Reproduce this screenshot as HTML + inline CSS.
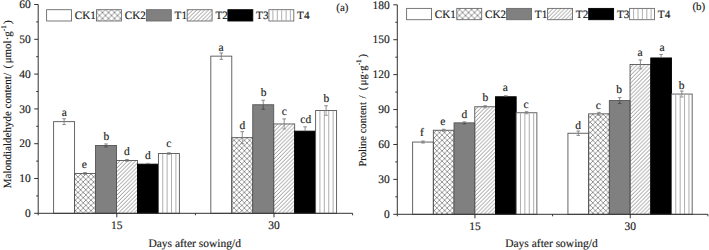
<!DOCTYPE html>
<html><head><meta charset="utf-8"><style>
html,body{margin:0;padding:0;background:#fff;}
svg{display:block;}
text{font-family:"Liberation Serif", serif;font-size:11.5px;fill:#1a1a1a;stroke:#1a1a1a;stroke-width:0.15px;text-rendering:geometricPrecision;}
</style></head><body>
<svg width="709" height="250" viewBox="0 0 709 250">

<defs>
 <pattern id="xh" patternUnits="userSpaceOnUse" width="5.2" height="5.2">
  <path d="M0,0 L5.2,5.2 M5.2,0 L0,5.2" stroke="#777" stroke-width="0.75" fill="none"/>
 </pattern>
 <pattern id="xh2" patternUnits="userSpaceOnUse" width="6" height="6" x="0.5" y="0.5">
  <path d="M0,0 L6,6 M6,0 L0,6" stroke="#777" stroke-width="0.8" fill="none"/>
 </pattern>
 <pattern id="dh" patternUnits="userSpaceOnUse" width="3.9" height="3.9">
  <path d="M-1,1 L1,-1 M0,3.9 L3.9,0 M2.9,4.9 L4.9,2.9" stroke="#7a7a7a" stroke-width="0.8" fill="none"/>
 </pattern>
 <pattern id="vl" patternUnits="userSpaceOnUse" width="4.7" height="10">
  <path d="M2.35,0 L2.35,10" stroke="#aaa" stroke-width="0.8" fill="none"/>
 </pattern>
</defs>

<rect x="53.62" y="121.65" width="20.96" height="91.65" fill="#fff" stroke="#555" stroke-width="0.9"/>
<rect x="74.58" y="173.55" width="20.96" height="39.75" fill="url(#xh)" stroke="#555" stroke-width="0.9"/>
<rect x="95.54" y="145.45" width="20.96" height="67.85" fill="#808080" stroke="#555" stroke-width="0.9"/>
<rect x="116.5" y="160.45" width="20.96" height="52.85" fill="url(#dh)" stroke="#555" stroke-width="0.9"/>
<rect x="137.46" y="164.15" width="20.96" height="49.15" fill="#000" stroke="#000" stroke-width="0.9"/>
<rect x="158.42" y="153.55" width="20.96" height="59.75" fill="#fff" stroke="#555" stroke-width="0.9"/>
<path d="M162.72,154.05V213.3M167.12,154.05V213.3M171.52,154.05V213.3M175.92,154.05V213.3" stroke="#999" stroke-width="0.8" fill="none"/>
<path d="M64.1,118.75 V121.65 M62.3,118.75 H65.9" stroke="#777" stroke-width="0.85" fill="none"/>
<path d="M64.1,121.65 V124.55 M62.3,124.55 H65.9" stroke="#777" stroke-width="0.8" fill="none"/>
<text x="64.2" y="116" text-anchor="middle">a</text>
<path d="M85.06,172.55 V173.55 M83.26,172.55 H86.86" stroke="#777" stroke-width="0.85" fill="none"/>
<path d="M85.06,173.55 V174.55 M83.26,174.55 H86.86" stroke="#888" stroke-width="0.8" fill="none"/>
<text x="84.4" y="168.4" text-anchor="middle">e</text>
<path d="M106.02,143.95 V145.45 M104.22,143.95 H107.82" stroke="#777" stroke-width="0.85" fill="none"/>
<path d="M106.02,145.45 V146.95 M104.22,146.95 H107.82" stroke="#444" stroke-width="0.8" fill="none"/>
<text x="106.3" y="140.2" text-anchor="middle">b</text>
<path d="M126.98,159.45 V160.45 M125.18,159.45 H128.78" stroke="#777" stroke-width="0.85" fill="none"/>
<path d="M126.98,160.45 V161.45 M125.18,161.45 H128.78" stroke="#888" stroke-width="0.8" fill="none"/>
<text x="126.8" y="154.6" text-anchor="middle">d</text>
<path d="M147.94,163.35 V164.15 M146.14,163.35 H149.74" stroke="#777" stroke-width="0.85" fill="none"/>
<text x="147.9" y="159.2" text-anchor="middle">d</text>
<path d="M168.9,152.75 V153.55 M167.1,152.75 H170.7" stroke="#777" stroke-width="0.85" fill="none"/>
<path d="M168.9,153.55 V154.35 M167.1,154.35 H170.7" stroke="#888" stroke-width="0.8" fill="none"/>
<text x="168.7" y="147.2" text-anchor="middle">c</text>
<rect x="210.82" y="56.15" width="20.96" height="157.15" fill="#fff" stroke="#555" stroke-width="0.9"/>
<rect x="231.78" y="137.65" width="20.96" height="75.65" fill="url(#xh)" stroke="#555" stroke-width="0.9"/>
<rect x="252.74" y="104.75" width="20.96" height="108.55" fill="#808080" stroke="#555" stroke-width="0.9"/>
<rect x="273.7" y="123.95" width="20.96" height="89.35" fill="url(#dh)" stroke="#555" stroke-width="0.9"/>
<rect x="294.66" y="131.15" width="20.96" height="82.15" fill="#000" stroke="#000" stroke-width="0.9"/>
<rect x="315.62" y="110.55" width="20.96" height="102.75" fill="#fff" stroke="#555" stroke-width="0.9"/>
<path d="M319.92,111.05V213.3M324.32,111.05V213.3M328.72,111.05V213.3M333.12,111.05V213.3" stroke="#999" stroke-width="0.8" fill="none"/>
<path d="M221.3,52.95 V56.15 M219.5,52.95 H223.1" stroke="#777" stroke-width="0.85" fill="none"/>
<path d="M221.3,56.15 V59.35 M219.5,59.35 H223.1" stroke="#777" stroke-width="0.8" fill="none"/>
<text x="221.1" y="51" text-anchor="middle">a</text>
<path d="M242.26,131.65 V137.65 M240.46,131.65 H244.06" stroke="#777" stroke-width="0.85" fill="none"/>
<path d="M242.26,137.65 V143.65 M240.46,143.65 H244.06" stroke="#888" stroke-width="0.8" fill="none"/>
<text x="242.3" y="128.5" text-anchor="middle">d</text>
<path d="M263.22,100.25 V104.75 M261.42,100.25 H265.02" stroke="#777" stroke-width="0.85" fill="none"/>
<path d="M263.22,104.75 V109.25 M261.42,109.25 H265.02" stroke="#444" stroke-width="0.8" fill="none"/>
<text x="263.5" y="96" text-anchor="middle">b</text>
<path d="M284.18,118.95 V123.95 M282.38,118.95 H285.98" stroke="#777" stroke-width="0.85" fill="none"/>
<path d="M284.18,123.95 V128.95 M282.38,128.95 H285.98" stroke="#888" stroke-width="0.8" fill="none"/>
<text x="284.2" y="115.2" text-anchor="middle">c</text>
<path d="M305.14,126.85 V131.15 M303.34,126.85 H306.94" stroke="#777" stroke-width="0.85" fill="none"/>
<text x="305.8" y="122.9" text-anchor="middle">cd</text>
<path d="M326.1,105.75 V110.55 M324.3,105.75 H327.9" stroke="#777" stroke-width="0.85" fill="none"/>
<path d="M326.1,110.55 V115.35 M324.3,115.35 H327.9" stroke="#888" stroke-width="0.8" fill="none"/>
<text x="326.4" y="102" text-anchor="middle">b</text>
<path d="M38.2,4.5 V213.3 H352.6" stroke="#333" stroke-width="1" fill="none"/>
<path d="M34.2,213.3 H38.2" stroke="#333" stroke-width="1"/>
<text x="30.7" y="217" text-anchor="end">0</text>
<path d="M36.2,195.9 H38.2" stroke="#333" stroke-width="1"/>
<path d="M34.2,178.5 H38.2" stroke="#333" stroke-width="1"/>
<text x="30.7" y="182.2" text-anchor="end">10</text>
<path d="M36.2,161.1 H38.2" stroke="#333" stroke-width="1"/>
<path d="M34.2,143.7 H38.2" stroke="#333" stroke-width="1"/>
<text x="30.7" y="147.4" text-anchor="end">20</text>
<path d="M36.2,126.3 H38.2" stroke="#333" stroke-width="1"/>
<path d="M34.2,108.9 H38.2" stroke="#333" stroke-width="1"/>
<text x="30.7" y="112.6" text-anchor="end">30</text>
<path d="M36.2,91.5 H38.2" stroke="#333" stroke-width="1"/>
<path d="M34.2,74.1 H38.2" stroke="#333" stroke-width="1"/>
<text x="30.7" y="77.8" text-anchor="end">40</text>
<path d="M36.2,56.7 H38.2" stroke="#333" stroke-width="1"/>
<path d="M34.2,39.3 H38.2" stroke="#333" stroke-width="1"/>
<text x="30.7" y="43" text-anchor="end">50</text>
<path d="M36.2,21.9 H38.2" stroke="#333" stroke-width="1"/>
<path d="M34.2,4.5 H38.2" stroke="#333" stroke-width="1"/>
<text x="30.7" y="8.2" text-anchor="end">60</text>
<path d="M116.8,213.3 V217.3" stroke="#333" stroke-width="1"/>
<text x="116.8" y="228.8" text-anchor="middle">15</text>
<path d="M274,213.3 V217.3" stroke="#333" stroke-width="1"/>
<text x="274" y="228.8" text-anchor="middle">30</text>
<path d="M38.2,213.3 V215.3" stroke="#333" stroke-width="1"/>
<path d="M195.4,213.3 V215.3" stroke="#333" stroke-width="1"/>
<path d="M352.6,213.3 V215.3" stroke="#333" stroke-width="1"/>
<text x="194.7" y="247" text-anchor="middle">Days after sowing/d</text>
<rect x="46.6" y="9.7" width="24.9" height="11.3" fill="#fff" stroke="#6a6a6a" stroke-width="0.9"/>
<text x="74.8" y="19.2" style="font-size:11.2px">CK1</text>
<rect x="96.5" y="9.7" width="24.9" height="11.3" fill="url(#xh2)" stroke="#6a6a6a" stroke-width="0.9"/>
<text x="124.7" y="19.2" style="font-size:11.2px">CK2</text>
<rect x="146.4" y="9.7" width="24.9" height="11.3" fill="#808080" stroke="#6a6a6a" stroke-width="0.9"/>
<text x="174.6" y="19.2" style="font-size:11.2px">T1</text>
<rect x="187.2" y="9.7" width="24.9" height="11.3" fill="url(#dh)" stroke="#6a6a6a" stroke-width="0.9"/>
<text x="215.4" y="19.2" style="font-size:11.2px">T2</text>
<rect x="227.9" y="9.7" width="24.9" height="11.3" fill="#000" stroke="#000" stroke-width="0.9"/>
<text x="256.1" y="19.2" style="font-size:11.2px">T3</text>
<rect x="268.9" y="9.7" width="24.9" height="11.3" fill="#fff" stroke="#6a6a6a" stroke-width="0.9"/>
<path d="M272.9,10.2V20.7M277.3,10.2V20.7M281.7,10.2V20.7M286.1,10.2V20.7M290.4,10.2V20.7" stroke="#999" stroke-width="0.8" fill="none"/>
<text x="297.1" y="19.2" style="font-size:11.2px">T4</text>
<text x="336.3" y="11.2" style="font-size:11px">(a)</text>
<text transform="translate(11.1,188.2) rotate(-90)" style="font-size:11px">Malondialdehyde content/<tspan dx="4.6">(</tspan><tspan dx="1.4">μmol·g</tspan><tspan dy="-4.8" style="font-size:7.3px">-1</tspan><tspan dx="1.2" dy="4.8">)</tspan></text>
<rect x="412.63" y="142.05" width="20.71" height="72.25" fill="#fff" stroke="#555" stroke-width="0.9"/>
<rect x="433.34" y="130.25" width="20.71" height="84.05" fill="url(#xh)" stroke="#555" stroke-width="0.9"/>
<rect x="454.04" y="122.85" width="20.71" height="91.45" fill="#808080" stroke="#555" stroke-width="0.9"/>
<rect x="474.75" y="106.75" width="20.71" height="107.55" fill="url(#dh)" stroke="#555" stroke-width="0.9"/>
<rect x="495.46" y="96.75" width="20.71" height="117.55" fill="#000" stroke="#000" stroke-width="0.9"/>
<rect x="516.16" y="112.75" width="20.71" height="101.55" fill="#fff" stroke="#555" stroke-width="0.9"/>
<path d="M520.46,113.25V214.3M524.86,113.25V214.3M529.26,113.25V214.3M533.66,113.25V214.3" stroke="#999" stroke-width="0.8" fill="none"/>
<path d="M422.98,141.05 V142.05 M421.18,141.05 H424.78" stroke="#777" stroke-width="0.85" fill="none"/>
<path d="M422.98,142.05 V143.05 M421.18,143.05 H424.78" stroke="#777" stroke-width="0.8" fill="none"/>
<text x="421.8" y="136.4" text-anchor="middle">f</text>
<path d="M443.69,129.25 V130.25 M441.89,129.25 H445.49" stroke="#777" stroke-width="0.85" fill="none"/>
<path d="M443.69,130.25 V131.25 M441.89,131.25 H445.49" stroke="#888" stroke-width="0.8" fill="none"/>
<text x="442.9" y="124.9" text-anchor="middle">e</text>
<path d="M464.4,121.85 V122.85 M462.6,121.85 H466.2" stroke="#777" stroke-width="0.85" fill="none"/>
<path d="M464.4,122.85 V123.85 M462.6,123.85 H466.2" stroke="#444" stroke-width="0.8" fill="none"/>
<text x="464.4" y="117.9" text-anchor="middle">d</text>
<path d="M485.1,105.75 V106.75 M483.3,105.75 H486.9" stroke="#777" stroke-width="0.85" fill="none"/>
<path d="M485.1,106.75 V107.75 M483.3,107.75 H486.9" stroke="#888" stroke-width="0.8" fill="none"/>
<text x="485.3" y="101.1" text-anchor="middle">b</text>
<path d="M505.81,95.75 V96.75 M504.01,95.75 H507.61" stroke="#777" stroke-width="0.85" fill="none"/>
<text x="505.2" y="90.8" text-anchor="middle">a</text>
<path d="M526.52,111.75 V112.75 M524.72,111.75 H528.32" stroke="#777" stroke-width="0.85" fill="none"/>
<path d="M526.52,112.75 V113.75 M524.72,113.75 H528.32" stroke="#888" stroke-width="0.8" fill="none"/>
<text x="526" y="107.6" text-anchor="middle">c</text>
<rect x="567.93" y="133.25" width="20.71" height="81.05" fill="#fff" stroke="#555" stroke-width="0.9"/>
<rect x="588.64" y="113.85" width="20.71" height="100.45" fill="url(#xh)" stroke="#555" stroke-width="0.9"/>
<rect x="609.34" y="100.55" width="20.71" height="113.75" fill="#808080" stroke="#555" stroke-width="0.9"/>
<rect x="630.05" y="64.45" width="20.71" height="149.85" fill="url(#dh)" stroke="#555" stroke-width="0.9"/>
<rect x="650.76" y="57.95" width="20.71" height="156.35" fill="#000" stroke="#000" stroke-width="0.9"/>
<rect x="671.46" y="94.05" width="20.71" height="120.25" fill="#fff" stroke="#555" stroke-width="0.9"/>
<path d="M675.76,94.55V214.3M680.16,94.55V214.3M684.56,94.55V214.3M688.96,94.55V214.3" stroke="#999" stroke-width="0.8" fill="none"/>
<path d="M578.28,131.05 V133.25 M576.48,131.05 H580.08" stroke="#777" stroke-width="0.85" fill="none"/>
<path d="M578.28,133.25 V135.45 M576.48,135.45 H580.08" stroke="#777" stroke-width="0.8" fill="none"/>
<text x="578" y="128.6" text-anchor="middle">d</text>
<path d="M598.99,112.35 V113.85 M597.19,112.35 H600.79" stroke="#777" stroke-width="0.85" fill="none"/>
<path d="M598.99,113.85 V115.35 M597.19,115.35 H600.79" stroke="#888" stroke-width="0.8" fill="none"/>
<text x="598.4" y="108.7" text-anchor="middle">c</text>
<path d="M619.7,97.55 V100.55 M617.9,97.55 H621.5" stroke="#777" stroke-width="0.85" fill="none"/>
<path d="M619.7,100.55 V103.55 M617.9,103.55 H621.5" stroke="#444" stroke-width="0.8" fill="none"/>
<text x="619" y="93" text-anchor="middle">b</text>
<path d="M640.4,59.95 V64.45 M638.6,59.95 H642.2" stroke="#777" stroke-width="0.85" fill="none"/>
<path d="M640.4,64.45 V68.95 M638.6,68.95 H642.2" stroke="#888" stroke-width="0.8" fill="none"/>
<text x="640.1" y="56.4" text-anchor="middle">a</text>
<path d="M661.11,54.45 V57.95 M659.31,54.45 H662.91" stroke="#777" stroke-width="0.85" fill="none"/>
<text x="662.1" y="51.1" text-anchor="middle">a</text>
<path d="M681.82,91.05 V94.05 M680.02,91.05 H683.62" stroke="#777" stroke-width="0.85" fill="none"/>
<path d="M681.82,94.05 V97.05 M680.02,97.05 H683.62" stroke="#888" stroke-width="0.8" fill="none"/>
<text x="681.5" y="88.7" text-anchor="middle">b</text>
<path d="M397.3,4.8 V214.3 H707.9" stroke="#333" stroke-width="1" fill="none"/>
<path d="M393.3,214.3 H397.3" stroke="#333" stroke-width="1"/>
<text x="389.8" y="218" text-anchor="end">0</text>
<path d="M395.3,196.84 H397.3" stroke="#333" stroke-width="1"/>
<path d="M393.3,179.38 H397.3" stroke="#333" stroke-width="1"/>
<text x="389.8" y="183.08" text-anchor="end">30</text>
<path d="M395.3,161.92 H397.3" stroke="#333" stroke-width="1"/>
<path d="M393.3,144.47 H397.3" stroke="#333" stroke-width="1"/>
<text x="389.8" y="148.17" text-anchor="end">60</text>
<path d="M395.3,127.01 H397.3" stroke="#333" stroke-width="1"/>
<path d="M393.3,109.55 H397.3" stroke="#333" stroke-width="1"/>
<text x="389.8" y="113.25" text-anchor="end">90</text>
<path d="M395.3,92.09 H397.3" stroke="#333" stroke-width="1"/>
<path d="M393.3,74.63 H397.3" stroke="#333" stroke-width="1"/>
<text x="389.8" y="78.33" text-anchor="end">120</text>
<path d="M395.3,57.17 H397.3" stroke="#333" stroke-width="1"/>
<path d="M393.3,39.72 H397.3" stroke="#333" stroke-width="1"/>
<text x="389.8" y="43.42" text-anchor="end">150</text>
<path d="M395.3,22.26 H397.3" stroke="#333" stroke-width="1"/>
<path d="M393.3,4.8 H397.3" stroke="#333" stroke-width="1"/>
<text x="389.8" y="8.5" text-anchor="end">180</text>
<path d="M474.95,214.3 V218.3" stroke="#333" stroke-width="1"/>
<text x="474.95" y="229.8" text-anchor="middle">15</text>
<path d="M630.25,214.3 V218.3" stroke="#333" stroke-width="1"/>
<text x="630.25" y="229.8" text-anchor="middle">30</text>
<path d="M397.3,214.3 V216.3" stroke="#333" stroke-width="1"/>
<path d="M552.6,214.3 V216.3" stroke="#333" stroke-width="1"/>
<path d="M707.9,214.3 V216.3" stroke="#333" stroke-width="1"/>
<text x="551.5" y="247" text-anchor="middle">Days after sowing/d</text>
<rect x="406.6" y="8.4" width="24.9" height="11.3" fill="#fff" stroke="#6a6a6a" stroke-width="0.9"/>
<text x="434.8" y="17.9" style="font-size:11.2px">CK1</text>
<rect x="456.8" y="8.4" width="24.9" height="11.3" fill="url(#xh2)" stroke="#6a6a6a" stroke-width="0.9"/>
<text x="485" y="17.9" style="font-size:11.2px">CK2</text>
<rect x="506.6" y="8.4" width="24.9" height="11.3" fill="#808080" stroke="#6a6a6a" stroke-width="0.9"/>
<text x="534.8" y="17.9" style="font-size:11.2px">T1</text>
<rect x="547.6" y="8.4" width="24.9" height="11.3" fill="url(#dh)" stroke="#6a6a6a" stroke-width="0.9"/>
<text x="575.8" y="17.9" style="font-size:11.2px">T2</text>
<rect x="588.7" y="8.4" width="24.9" height="11.3" fill="#000" stroke="#000" stroke-width="0.9"/>
<text x="616.9" y="17.9" style="font-size:11.2px">T3</text>
<rect x="629.6" y="8.4" width="24.9" height="11.3" fill="#fff" stroke="#6a6a6a" stroke-width="0.9"/>
<path d="M633.6,8.9V19.4M638,8.9V19.4M642.4,8.9V19.4M646.8,8.9V19.4M651.1,8.9V19.4" stroke="#999" stroke-width="0.8" fill="none"/>
<text x="657.8" y="17.9" style="font-size:11.2px">T4</text>
<text x="692.4" y="9.6" style="font-size:11px">(b)</text>
<text transform="translate(365.8,166.6) rotate(-90)" style="font-size:11px"><tspan style="font-size:10.6px">Proline content<tspan dx="1"> /</tspan><tspan dx="5.4">(</tspan><tspan dx="1.5">μg·g</tspan><tspan dy="-4.8" style="font-size:7.1px">-1</tspan><tspan dx="2" dy="4.8">)</tspan></tspan></text>
</svg>
</body></html>
